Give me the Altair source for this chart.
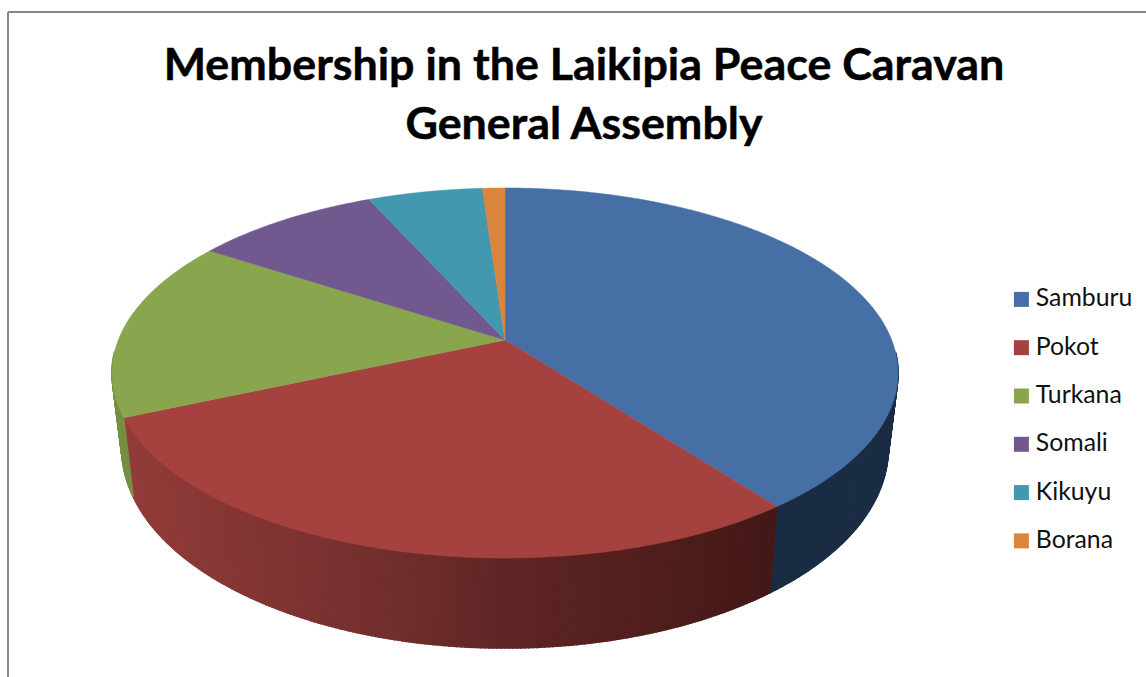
import math
import altair as alt

# Share of General Assembly membership by community (percent)
communities = ["Samburu", "Pokot", "Turkana", "Somali", "Kikuyu", "Borana"]
shares = [39.7, 28.7, 15.8, 9.1, 5.6, 1.1]
top_colors = ["#4670A5", "#A5423F", "#89A54E", "#71588F", "#4198AF", "#DB843D"]

# Side-wall shading: (screen x, RGB) stops for the shaded wall, flat tones for the rest
red_wall_stops = [(125, (146, 60, 57)), (400, (112, 46, 44)), (505, (95, 38, 37)), (770, (68, 25, 23))]
flat_walls = {
    "Samburu": (26, 45, 69),
    "Turkana": (118, 143, 66),
    "Somali": (90, 70, 115),
    "Kikuyu": (50, 120, 140),
    "Borana": (170, 105, 50),
}

title_lines = ["Membership in the Laikipia Peace Caravan", "General Assembly"]

# Perspective of the tilted disc
APEX_X, APEX_Y = 505.0, 340.0
RADIUS = 386.7
PERSP_B, PERSP_C = -118.5, 0.1784
WALL_SHRINK = 0.975
WALL_BOTTOM_Y, WALL_FRONT_Y, WALL_STRETCH = 648.0, 558.0, 1.078
WALL_VISIBLE_FROM_Y = 352


def disc_point(deg):
    """Clockwise angle from twelve o'clock to a point on the disc's rim."""
    u, v = math.sin(math.radians(deg)), math.cos(math.radians(deg))
    w = 1 + PERSP_C * v
    return APEX_X + RADIUS * u / w, (APEX_Y + PERSP_B * v) / w


def wall_point(x, y):
    return (APEX_X + WALL_SHRINK * (x - APEX_X),
            WALL_BOTTOM_Y + WALL_STRETCH * (y - WALL_FRONT_Y))


def red_wall(x):
    for (x0, c0), (x1, c1) in zip(red_wall_stops, red_wall_stops[1:]):
        if x <= x1:
            t = max(0.0, (x - x0) / (x1 - x0))
            return tuple(a + (b - a) * t for a, b in zip(c0, c1))
    return red_wall_stops[-1][1]


def hex_color(rgb):
    return "#%02x%02x%02x" % tuple(int(round(c)) for c in rgb)


def polygon(coords, **props):
    ring = [list(p) for p in coords] + [list(coords[0])]
    return {"type": "Feature", "properties": props,
            "geometry": {"type": "Polygon", "coordinates": [ring]}}


total = sum(shares)
faces, walls = [], []
start = 0.0
for name, share in zip(communities, shares):
    sweep = 360.0 * share / total
    n = max(2, int(sweep / 0.5))
    angles = [start + sweep * i / n for i in range(n + 1)]
    rim = [disc_point(a) for a in angles]
    faces.append(polygon([(APEX_X, APEX_Y)] + rim, community=name))
    # The wall is a run of narrow bands swept down from the front of the rim
    for a, b in zip(rim[:-1], rim[1:]):
        if a[1] < WALL_VISIBLE_FROM_Y and b[1] < WALL_VISIBLE_FROM_Y:
            continue
        rgb = red_wall((a[0] + b[0]) / 2) if name == "Pokot" else flat_walls[name]
        walls.append(polygon([a, b, wall_point(*b), wall_point(*a)], shade=hex_color(rgb)))
    start += sweep

flat_projection = dict(type="identity", scale=1, translate=[0, 0])
one_row = alt.Data(values=[{"row": 0}])

wall_layer = (
    alt.Chart(alt.Data(values=walls))
    .mark_geoshape(strokeWidth=1.6)
    .encode(
        fill=alt.Fill("properties.shade:N", scale=None, legend=None),
        stroke=alt.Stroke("properties.shade:N", scale=None, legend=None),
    )
    .project(**flat_projection)
)

face_layer = (
    alt.Chart(alt.Data(values=faces))
    .mark_geoshape(strokeWidth=0.5)
    .encode(
        fill=alt.Fill(
            "properties.community:N",
            scale=alt.Scale(domain=communities, range=top_colors),
            sort=None,
            legend=alt.Legend(
                title=None,
                orient="none",
                legendX=1009,
                legendY=287,
                symbolType="square",
                symbolSize=225,
                symbolStrokeWidth=0,
                labelFont="Lato",
                labelFontSize=24.8,
                labelColor="#111111",
                labelOffset=2,
                labelLimit=200,
                rowPadding=22.3,
                padding=0,
            ),
        ),
        stroke=alt.Stroke(
            "properties.community:N",
            scale=alt.Scale(domain=communities, range=top_colors),
            sort=None,
            legend=None,
        ),
    )
    .project(**flat_projection)
)

title_layer = (
    alt.Chart(one_row)
    .mark_text(font="Lato", fontWeight="bold", fontSize=44.8, color="#000000",
               stroke="#000000", strokeWidth=0.5,
               align="center", baseline="alphabetic", lineHeight=59)
    .encode(x=alt.value(584), y=alt.value(80), text=alt.value(title_lines))
)

frame_top = alt.Chart(one_row).mark_rule(color="#868686", strokeWidth=2).encode(
    x=alt.value(8), x2=alt.value(1146), y=alt.value(12))
frame_left = alt.Chart(one_row).mark_rule(color="#868686", strokeWidth=2).encode(
    x=alt.value(8), y=alt.value(12), y2=alt.value(677))

chart = (
    alt.layer(frame_top, frame_left, wall_layer, face_layer, title_layer)
    .resolve_scale(fill="independent", stroke="independent")
    .properties(width=1146, height=677, padding=0, autosize=alt.AutoSizeParams(type="none"),
                background="#ffffff")
    .configure_view(stroke=None)
)

chart.save("out.html", embed_options={"renderer": "svg", "actions": False})
